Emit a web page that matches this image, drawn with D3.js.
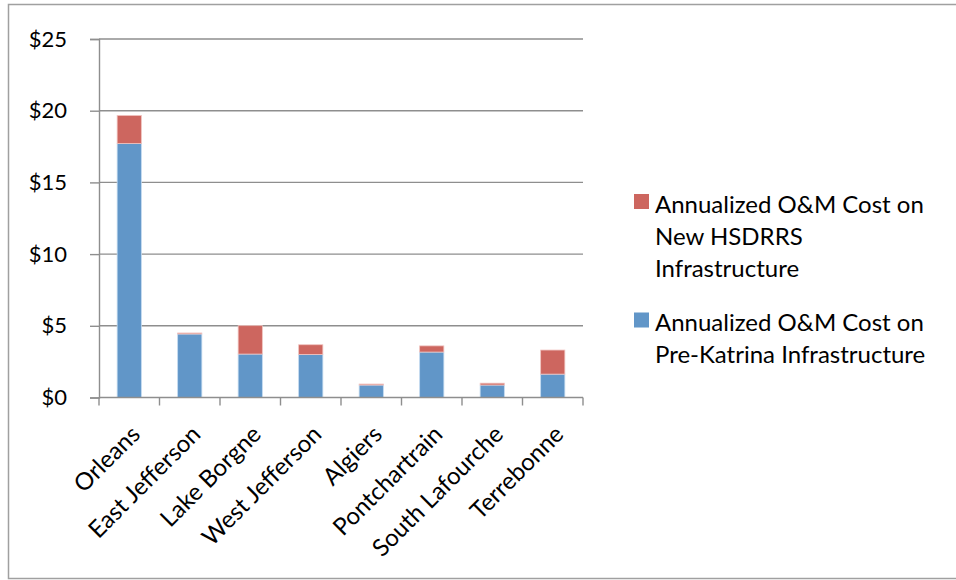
<!DOCTYPE html>
<html>
<head>
<meta charset="utf-8">
<script src="https://cdn.jsdelivr.net/npm/d3@7"></script>
<style>
  body { margin: 0; background: #fff; }
  svg text { font-family: Lato, "Open Sans", sans-serif; fill: #000; }
</style>
</head>
<body>
<div id="chart"></div>
<script>
const categories = ["Orleans", "East Jefferson", "Lake Borgne", "West Jefferson", "Algiers", "Pontchartrain", "South Lafourche", "Terrebonne"];
const preKatrina = [17.71, 4.43, 3.03, 3.0, 0.87, 3.17, 0.87, 1.63];
const newHsdrrs = [1.96, 0.07, 1.98, 0.68, 0.07, 0.43, 0.13, 1.68];
const yTicks = [0, 5, 10, 15, 20, 25];
const legendLines = [["Annualized O&M Cost on", "New HSDRRS", "Infrastructure"], ["Annualized O&M Cost on", "Pre-Katrina Infrastructure"]];

const width = 956, height = 580;
const margin = { top: 39, right: 373, bottom: 183, left: 99 };
const blue = "#6196c8", red = "#cd665f", grid = "#8e8e8e";

const svg = d3.select("#chart").append("svg")
  .attr("width", width).attr("height", height);

// outer frame
svg.append("rect")
  .attr("x", 8.5).attr("y", 4.5)
  .attr("width", 960).attr("height", 574)
  .attr("fill", "none").attr("stroke", "#a0a0a0").attr("stroke-width", 1.5);

const x = d3.scaleBand()
  .domain(categories)
  .range([margin.left, width - margin.right])
  .paddingInner(0.6).paddingOuter(0.3);

const y = d3.scaleLinear()
  .domain([0, 25])
  .range([height - margin.bottom + 0.5, margin.top]);

// gridlines
svg.append("g")
  .selectAll("line")
  .data(yTicks.filter(d => d > 0))
  .join("line")
  .attr("x1", margin.left).attr("x2", width - margin.right)
  .attr("y1", d => y(d)).attr("y2", d => y(d))
  .attr("stroke", grid).attr("stroke-width", 1.4);

// y axis
const yAxis = svg.append("g")
  .attr("transform", `translate(${margin.left},0)`)
  .call(d3.axisLeft(y).tickValues(yTicks).tickSize(9).tickPadding(23).tickFormat(d => "$" + d));
yAxis.selectAll("line, path").attr("stroke", grid).attr("stroke-width", 1.4);
yAxis.selectAll("text").attr("font-size", 22).attr("font-family", "Lato, sans-serif").attr("fill", "#000");

// stacked bars
const stack = categories.map((c, i) => ({ cat: c, pre: preKatrina[i], neu: newHsdrrs[i] }));
const bars = svg.append("g");
bars.selectAll("rect.pre")
  .data(stack)
  .join("rect")
  .attr("class", "pre")
  .attr("x", d => x(d.cat)).attr("width", x.bandwidth())
  .attr("y", d => y(d.pre)).attr("height", d => y(0) - y(d.pre))
  .attr("fill", blue).attr("stroke", "#c4daef").attr("stroke-width", 0.8);
bars.selectAll("rect.neu")
  .data(stack)
  .join("rect")
  .attr("class", "neu")
  .attr("x", d => x(d.cat)).attr("width", x.bandwidth())
  .attr("y", d => y(d.pre + d.neu)).attr("height", d => y(d.pre) - y(d.pre + d.neu))
  .attr("fill", red).attr("stroke", "#f0c4c0").attr("stroke-width", 0.8);

// x axis with ticks on category boundaries
const xg = svg.append("g");
xg.append("line")
  .attr("x1", margin.left).attr("x2", width - margin.right)
  .attr("y1", y(0)).attr("y2", y(0))
  .attr("stroke", grid).attr("stroke-width", 1.4);
const bounds = d3.range(categories.length + 1).map(i => margin.left + i * x.step());
xg.selectAll("line.tick")
  .data(bounds)
  .join("line")
  .attr("class", "tick")
  .attr("x1", d => d).attr("x2", d => d)
  .attr("y1", y(0)).attr("y2", y(0) + 8)
  .attr("stroke", grid).attr("stroke-width", 1.4);
xg.selectAll("text")
  .data(categories)
  .join("text")
  .attr("transform", d => `translate(${x(d) + x.bandwidth() / 2 + 3},${y(0) + 29}) rotate(-45)`)
  .attr("text-anchor", "end")
  .attr("dy", "0.55em")
  .attr("font-size", 24)
  .text(d => d);

// legend
const legend = svg.append("g").attr("transform", "translate(634,0)");
const legendItems = [
  { color: red, lines: legendLines[0], top: 194 },
  { color: blue, lines: legendLines[1], top: 312.5 }
];
legendItems.forEach(item => {
  legend.append("rect")
    .attr("x", 0).attr("y", item.top)
    .attr("width", 15).attr("height", 15)
    .attr("fill", item.color);
  legend.append("text")
    .attr("x", 21).attr("y", item.top + 18.5)
    .attr("font-size", 24)
    .selectAll("tspan")
    .data(item.lines)
    .join("tspan")
    .attr("x", 21)
    .attr("dy", (d, i) => i === 0 ? 0 : 32)
    .text(d => d);
});
</script>
</body>
</html>
